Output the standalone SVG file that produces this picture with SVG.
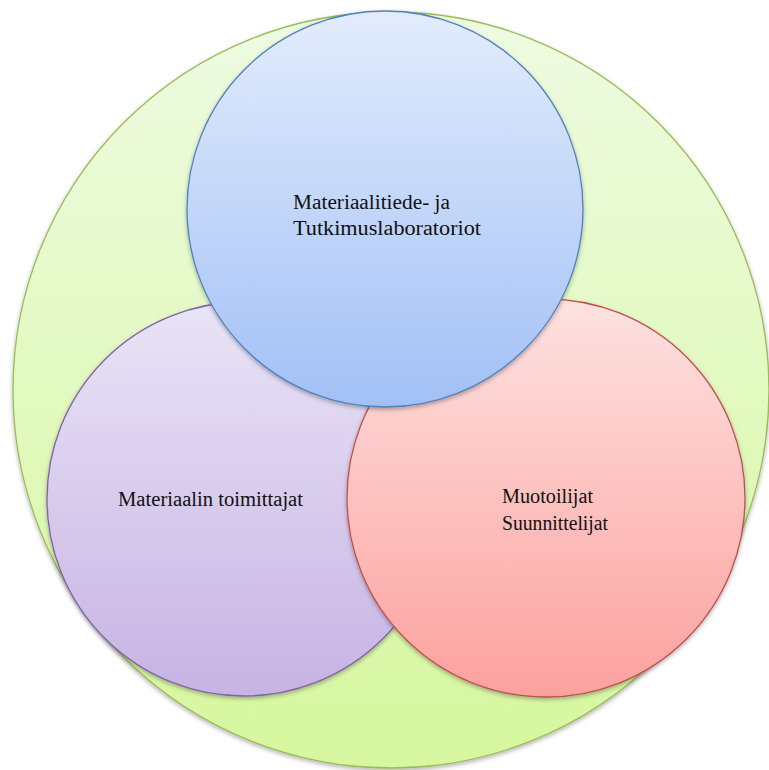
<svg xmlns="http://www.w3.org/2000/svg" width="769" height="770" viewBox="0 0 769 770">
<defs>
<linearGradient id="gGreen" x1="0" y1="0" x2="0" y2="1"><stop offset="0" stop-color="#eefbe2"/><stop offset="1" stop-color="#d6f79e"/></linearGradient>
<linearGradient id="gBlue" x1="0" y1="0" x2="0" y2="1"><stop offset="0" stop-color="#e2ecfc"/><stop offset="1" stop-color="#a2c0f6"/></linearGradient>
<linearGradient id="gPurple" x1="0" y1="0" x2="0" y2="1"><stop offset="0" stop-color="#e9e4f6"/><stop offset="1" stop-color="#c7b3e4"/></linearGradient>
<linearGradient id="gRed" x1="0" y1="0" x2="0" y2="1"><stop offset="0" stop-color="#fde2e1"/><stop offset="1" stop-color="#fca19e"/></linearGradient>
<filter id="sh" x="-10%" y="-10%" width="120%" height="125%"><feDropShadow dx="0" dy="2" stdDeviation="2" flood-color="#000" flood-opacity="0.3"/></filter>
</defs>
<style>
.c{stroke-width:1.3;filter:url(#sh)}
</style>
<g id="outer"><circle class="c" cx="391" cy="390" r="378" fill="url(#gGreen)" stroke="#9bbb59"/></g>
<g font-family="'Liberation Serif', 'Times New Roman', Times, serif" font-size="20" fill="#111">
<g id="toimittajat"><circle class="c" cx="244" cy="499" r="197" fill="url(#gPurple)" stroke="#8064a2"/>
<text x="118" y="506" textLength="185" lengthAdjust="spacingAndGlyphs">Materiaalin toimittajat</text></g>
<g id="suunnittelijat"><circle class="c" cx="546" cy="498" r="199" fill="url(#gRed)" stroke="#c0504d"/>
<text x="502" y="503" textLength="91" lengthAdjust="spacingAndGlyphs">Muotoilijat</text>
<text x="502" y="530" textLength="106" lengthAdjust="spacingAndGlyphs">Suunnittelijat</text></g>
<g id="laboratoriot"><circle class="c" cx="385" cy="209" r="198" fill="url(#gBlue)" stroke="#4f81bd"/>
<text x="293" y="209" textLength="157" lengthAdjust="spacingAndGlyphs">Materiaalitiede- ja</text>
<text x="293" y="235" textLength="188" lengthAdjust="spacingAndGlyphs">Tutkimuslaboratoriot</text></g>
</g>
<g id="connectors"/>
</svg>
